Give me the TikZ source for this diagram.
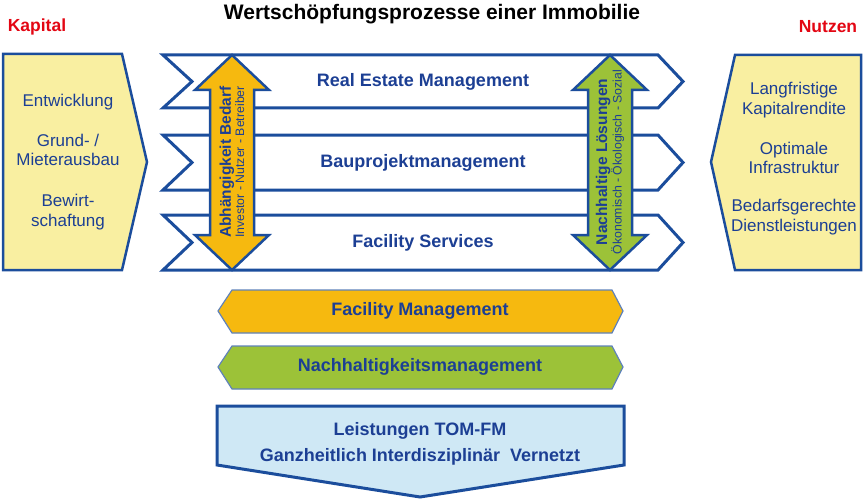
\documentclass[tikz,border=0pt]{standalone}
\usepackage{fontspec}
\setmainfont{Liberation Sans}
\usepackage{tikz}
\usetikzlibrary{positioning}
\definecolor{tomblue}{HTML}{1B4D9C}
\definecolor{tomtext}{HTML}{1C3F94}
\definecolor{tomred}{HTML}{E30613}
\definecolor{pale}{HTML}{F9EFA1}
\definecolor{fmgold}{HTML}{F6B90F}
\definecolor{nhgreen}{HTML}{9CC238}
\definecolor{sky}{HTML}{CFE8F5}

\begin{document}
\begin{tikzpicture}[x=1pt, y=-1pt, line join=miter,
  txt/.style={text=tomtext, font=\fontsize{17}{19.5}\selectfont, align=center, inner sep=0pt},
  btxt/.style={text=tomtext, font=\bfseries\fontsize{18}{20}\selectfont, align=center, inner sep=0pt},
  side/.style={draw=tomblue, line width=2.5pt, fill=pale},
  band/.style={draw=tomblue, line width=3pt, fill=white},
  dbl/.style={draw=tomblue, line width=2.5pt},
  flat/.style={draw=tomblue!70, line width=1.2pt}]
\useasboundingbox (0,0) rectangle (864,500);

% title and sides
\node[font=\bfseries\fontsize{21}{24}\selectfont] (title) at (432,14) {Wertschöpfungsprozesse einer Immobilie};
\node[text=tomred, font=\bfseries\fontsize{17.5}{20}\selectfont] (kapital) at (37,27) {Kapital};
\node[text=tomred, font=\bfseries\fontsize{17.5}{20}\selectfont] (nutzen) at (828,27) {Nutzen};

\draw[side] (3,54) -- (122,54) -- (147,162) -- (122,270) -- (3,270) -- cycle;
\draw[side] (861,55) -- (735,55) -- (711,162) -- (735,270) -- (861,270) -- cycle;

\node[txt] (entw) at (68,102) {Entwicklung};
\node[txt] (grund) at (68,150) {Grund- /\\Mieterausbau};
\node[txt] (bewi) at (68,212) {Bewirt-\\schaftung};

\node[txt] (rendite) at (794,100) {Langfristige\\Kapitalrendite};
\node[txt] (infra) at (794,158) {Optimale\\Infrastruktur};
\node[txt] (dienst) at (794,217) {Bedarfsgerechte\\Dienstleistungen};

% process bands
\foreach \t/\b in {55/108, 135/190, 215/270}
  \draw[band] (163,\t) -- (658,\t) -- (683,{(\t+\b)/2}) -- (658,\b) -- (163,\b) -- (192,{(\t+\b)/2}) -- cycle;

\node[btxt] (rem) at (423,82) {Real Estate Management};
\node[btxt] (bpm) at (423,163) {Bauprojektmanagement};
\node[btxt] (fs) at (423,243) {Facility Services};

% double arrows
\draw[dbl, fill=fmgold] (232,55) -- (269,90) -- (254,90) -- (254,235) -- (269,235) -- (232,270)
  -- (195,235) -- (210,235) -- (210,90) -- (195,90) -- cycle;
\draw[dbl, fill=nhgreen] (610,55) -- (647,90) -- (632,90) -- (632,235) -- (647,235) -- (610,270)
  -- (573,235) -- (588,235) -- (588,90) -- (573,90) -- cycle;

\node[text=tomtext, rotate=90, align=center, inner sep=0pt] (bedarf) at (232,162)
  {{\bfseries\fontsize{15.5}{16}\selectfont Abhängigkeit Bedarf}\\[0pt]{\fontsize{12.3}{13}\selectfont Investor - Nutzer - Betreiber}};
\node[text=tomtext, rotate=90, align=center, inner sep=0pt] (loesung) at (610,162)
  {{\bfseries\fontsize{15.5}{16}\selectfont Nachhaltige Lösungen}\\[0pt]{\fontsize{12.3}{13}\selectfont Ökonomisch - Ökologisch - Sozial}};

% management bars
\draw[flat, fill=fmgold] (218,311) -- (232,290) -- (612,290) -- (623,311) -- (612,333) -- (232,333) -- cycle;
\draw[flat, fill=nhgreen] (218,367) -- (232,346) -- (612,346) -- (623,367) -- (612,389) -- (232,389) -- cycle;
\node[btxt] (fm) at (420,311) {Facility Management};
\node[btxt] (nhm) at (420,367) {Nachhaltigkeitsmanagement};

% TOM-FM
\draw[dbl, line width=3pt, fill=sky] (217,406) -- (624,406) -- (624,465) -- (420,497) -- (217,465) -- cycle;
\node[btxt] (tom) at (420,431) {Leistungen TOM-FM};
\node[btxt] (ganz) at (420,457) {Ganzheitlich Interdisziplinär\ \ Vernetzt};
\end{tikzpicture}
\end{document}
